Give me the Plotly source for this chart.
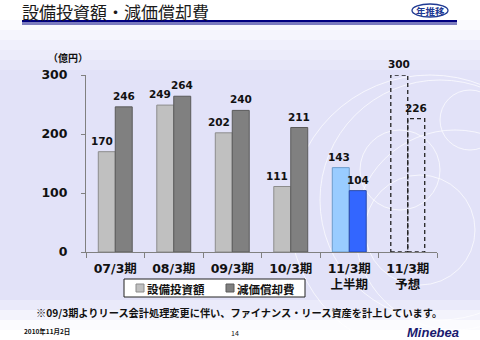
import plotly.graph_objects as go

# ---- data ----
categories = ["07/3期", "08/3期", "09/3期", "10/3期", "11/3期<br>上半期", "11/3期<br>予想"]
capex = [170, 249, 202, 111, 143, 300]          # 設備投資額
depreciation = [246, 264, 240, 211, 104, 226]   # 減価償却費
series_names = ["設備投資額", "減価償却費"]
y_ticks = [0, 100, 200, 300]
forecast_index = 5

# ---- styles ----
W, H = 480, 340
L, R, T, B = 86, 43, 75, 88
BAR_W = 0.29
capex_fill = ["#C0C0C0"] * 4 + ["#99CCFF", "rgba(0,0,0,0)"]
capex_line = ["#8C8C8C"] * 4 + ["#6C9CCC", "rgba(0,0,0,0)"]
dep_fill = ["#808080"] * 4 + ["#3366FF", "rgba(0,0,0,0)"]
dep_line = ["#5A5A5A"] * 4 + ["#2A4AA8", "rgba(0,0,0,0)"]
capex_label_shift = [-5, -5, -5, -5, -2, 0]

NUM_FONT = "DejaVu Sans, Noto Sans CJK JP, sans-serif"
JP_FONT = "Noto Sans CJK JP, DejaVu Sans, sans-serif"


def px(x, y):
    """pixel -> paper coords"""
    pw = W - L - R
    ph = H - T - B
    return (x - L) / pw, (H - B - y) / ph


fig = go.Figure()
fig.add_trace(go.Bar(
    x=categories, y=capex, name=series_names[0],
    width=BAR_W, offset=-BAR_W,
    marker=dict(color=capex_fill, line=dict(color=capex_line, width=1)),
))
fig.add_trace(go.Bar(
    x=categories, y=depreciation, name=series_names[1],
    width=BAR_W, offset=0,
    marker=dict(color=dep_fill, line=dict(color=dep_line, width=1)),
))

shapes = []
# background gradient bands
def lerp(c1, c2, t):
    return tuple(int(round(a + (b - a) * t)) for a, b in zip(c1, c2))

white = (255, 255, 255)
lav = (226, 226, 248)
n = 34
for i in range(n):
    y0 = H * i / n
    y1 = H * (i + 1) / n
    ym = (y0 + y1) / 2
    if ym < 15:
        c = white
    elif ym < 75:
        c = lerp(white, lav, (ym - 15) / 60)
    elif ym < 295:
        c = lav
    elif ym < 330:
        c = lerp(lav, white, (ym - 295) / 35)
    else:
        c = white
    _, py0 = px(0, y0)
    _, py1 = px(0, y1 + 0.6)
    px0, _ = px(0, 0)
    px1, _ = px(W, 0)
    shapes.append(dict(type="rect", xref="paper", yref="paper", x0=px0, x1=px1,
                       y0=py1, y1=py0, fillcolor="rgb(%d,%d,%d)" % c,
                       line=dict(width=0), layer="below"))

# decorative faint circles
for (cx, cy, r) in [(430, 215, 140), (440, 200, 120), (455, 230, 100), (400, 170, 40), (420, 230, 55), (470, 120, 30)]:
    ax0, ay0 = px(cx - r, cy - r)
    ax1, ay1 = px(cx + r, cy + r)
    shapes.append(dict(type="circle", xref="paper", yref="paper", x0=ax0, x1=ax1,
                       y0=ay1, y1=ay0, line=dict(color="rgba(255,255,255,0.7)", width=1),
                       layer="below"))

# title rules
for (y0, y1) in [(20, 22.5), (23.5, 24.5)]:
    a0, b0 = px(22, y0)
    a1, b1 = px(457, y1)
    shapes.append(dict(type="rect", xref="paper", yref="paper", x0=a0, x1=a1, y0=b1, y1=b0,
                       fillcolor="#000080", line=dict(width=0)))
# badge
a0, b0 = px(412, 4)
a1, b1 = px(448, 17)
shapes.append(dict(type="circle", xref="paper", yref="paper", x0=a0, x1=a1, y0=b1, y1=b0,
                   fillcolor="white", line=dict(color="#1F3A93", width=1.3)))

# forecast dashed outlines
for vals, off in [(capex, -BAR_W), (depreciation, 0.0)]:
    shapes.append(dict(type="rect", xref="x", yref="y",
                       x0=forecast_index + off, x1=forecast_index + off + BAR_W,
                       y0=0, y1=vals[forecast_index],
                       line=dict(color="#222", width=1.3, dash="4px,3px"),
                       fillcolor="rgba(0,0,0,0)"))

annotations = []

# value labels (on top of bars)
for vals, off, shifts in [(capex, -BAR_W / 2, capex_label_shift), (depreciation, BAR_W / 2, [0] * 6)]:
    for i, v in enumerate(vals):
        annotations.append(dict(text=str(v), x=i + off, y=v, xref="x", yref="y",
                                xanchor="center", yanchor="bottom", yshift=3, xshift=shifts[i],
                                showarrow=False,
                                font=dict(family=NUM_FONT, size=10.5, color="#111", weight="bold")))


def ann(text, x, y, size, xanchor="left", family=JP_FONT, color="#111", weight="bold", style="normal"):
    ax, ay = px(x, y)
    annotations.append(dict(text=text, x=ax, y=ay, xref="paper", yref="paper",
                            xanchor=xanchor, yanchor="middle", showarrow=False,
                            font=dict(family=family, size=size, color=color, weight=weight, style=style)))

# manual legend
lx0, ly0 = px(124, 279)
lx1, ly1 = px(305, 297)
shapes.append(dict(type="rect", xref="paper", yref="paper", x0=lx0, x1=lx1, y0=ly1, y1=ly0,
                   fillcolor="white", line=dict(color="#222", width=1)))
for (sx, tx, fill, line, name) in [(136, 145, capex_fill[0], capex_line[0], series_names[0]),
                                   (226, 235, dep_fill[0], dep_line[0], series_names[1])]:
    a0, b0 = px(sx, 284)
    a1, b1 = px(sx + 8, 292)
    shapes.append(dict(type="rect", xref="paper", yref="paper", x0=a0, x1=a1, y0=b1, y1=b0,
                       fillcolor=fill, line=dict(color=line, width=1)))
    ann(name, tx, 288.5, 11.5, xanchor="left")

ann("設備投資額・減価償却費", 20, 11, 17, weight="normal", color="#1a1a1a")
ann("年推移", 430, 10.5, 9.5, xanchor="center", color="#1F3A93")
ann("（億円）", 46, 57, 10)
ann("※09/3期よりリース会計処理変更に伴い、ファイナンス・リース資産を計上しています。", 239, 312, 10.2, xanchor="center")
ann("2010年11月2日", 22, 331, 6.5)
ann("14", 235, 333, 7, xanchor="center", weight="normal")
ann("Minebea", 433, 332, 13, xanchor="center", family="Liberation Sans, Arial, sans-serif",
    color="#1a1a6e", style="italic")

fig.update_layout(
    width=W, height=H,
    margin=dict(l=L, r=R, t=T, b=B, pad=0),
    paper_bgcolor="white", plot_bgcolor="rgba(0,0,0,0)",
    barmode="overlay",
    showlegend=False,
    shapes=shapes,
    annotations=annotations,
    xaxis=dict(type="category", showline=True, linecolor="#808080", linewidth=1,
               ticks="outside", ticklen=5, tickcolor="#808080", tickson="boundaries",
               tickfont=dict(family=NUM_FONT, size=12.5, color="#111", weight="bold"),
               showgrid=False, zeroline=False, range=[-0.5, 5.5], fixedrange=True,
               ticklabelstandoff=5),
    yaxis=dict(range=[0, 300], tickvals=y_ticks, showline=True, linecolor="#808080", linewidth=1,
               ticks="outside", ticklen=4, tickcolor="#808080",
               tickfont=dict(family=NUM_FONT, size=12.5, color="#111", weight="bold"),
               showgrid=False, zeroline=False, ticklabelstandoff=11),
)

fig.write_html("out.html")
